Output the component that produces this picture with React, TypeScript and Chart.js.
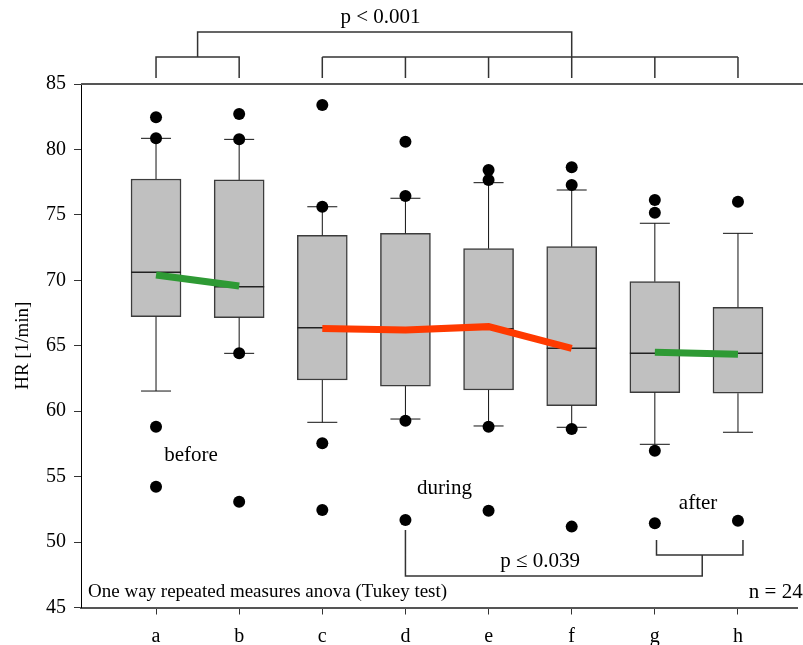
import React, { useEffect, useRef } from 'react';
import { Chart, registerables } from 'chart.js';

Chart.register(...registerables);

const categories = ['a', 'b', 'c', 'd', 'e', 'f', 'g', 'h'];
const q1 = [67.22, 67.14, 62.38, 61.92, 61.62, 60.42, 61.42, 61.37];
const q3 = [77.74, 77.67, 73.44, 73.59, 72.42, 72.57, 69.9, 67.94];
const medians = [70.61, 69.51, 66.38, 66.2, 66.3, 64.8, 64.42, 64.42];
const whiskerLow = [61.54, 64.42, 59.15, 59.4, 58.87, 58.77, 57.47, 58.39];
const whiskerHigh = [80.85, 80.77, 75.62, 76.27, 77.46, 76.9, 74.36, 73.59];
const outliers = [
  [82.46, 80.85, 58.81, 54.23],
  [82.71, 80.77, 64.42, 53.08],
  [83.4, 75.62, 57.55, 52.45],
  [80.59, 76.44, 59.27, 51.69],
  [78.43, 77.67, 58.81, 52.4],
  [78.63, 77.28, 58.64, 51.18],
  [76.14, 75.17, 56.98, 51.43],
  [76.01, 51.63],
];
const meanBefore = [70.41, 69.56]; // a, b
const meanDuring = [66.31, 66.2, 66.46, 64.8]; // c .. f
const meanAfter = [64.5, 64.35]; // g, h
const yTicks = [45, 50, 55, 60, 65, 70, 75, 80, 85];

const FONT = '"Liberation Serif", "Times New Roman", serif';

const extrasPlugin = {
  id: 'boxExtras',
  afterDatasetDraw(chart: any, args: any) {
    if (args.index !== 0) return;
    const { ctx } = chart;
    const x = chart.scales.x;
    const y = chart.scales.y;
    const half = 25;
    const cap = 15;
    ctx.save();
    categories.forEach((_, i) => {
      const px = x.getPixelForValue(i + 1);
      ctx.strokeStyle = '#111';
      ctx.lineWidth = 1;
      ctx.beginPath();
      ctx.moveTo(px, y.getPixelForValue(q3[i]));
      ctx.lineTo(px, y.getPixelForValue(whiskerHigh[i]));
      ctx.moveTo(px - cap, y.getPixelForValue(whiskerHigh[i]));
      ctx.lineTo(px + cap, y.getPixelForValue(whiskerHigh[i]));
      ctx.moveTo(px, y.getPixelForValue(q1[i]));
      ctx.lineTo(px, y.getPixelForValue(whiskerLow[i]));
      ctx.moveTo(px - cap, y.getPixelForValue(whiskerLow[i]));
      ctx.lineTo(px + cap, y.getPixelForValue(whiskerLow[i]));
      ctx.stroke();
      ctx.strokeStyle = '#222';
      ctx.lineWidth = 1.5;
      ctx.beginPath();
      ctx.moveTo(px - half, y.getPixelForValue(medians[i]));
      ctx.lineTo(px + half, y.getPixelForValue(medians[i]));
      ctx.stroke();
    });
    ctx.restore();
  },
  afterDraw(chart: any) {
    const { ctx, chartArea } = chart;
    const x = chart.scales.x;
    const y = chart.scales.y;
    const X = (v: number) => x.getPixelForValue(v);
    const Y = (v: number) => y.getPixelForValue(v);
    ctx.save();
    // top frame line
    ctx.strokeStyle = '#555';
    ctx.lineWidth = 2;
    ctx.beginPath();
    ctx.moveTo(chartArea.left, Y(85));
    ctx.lineTo(chart.width, Y(85));
    ctx.stroke();

    ctx.strokeStyle = '#333';
    ctx.lineWidth = 1.5;
    const t = chartArea.top;
    const tickTop = t - 6;
    const groupY = t - 27;
    const topY = t - 52;
    ctx.beginPath();
    // before group bracket (a-b)
    ctx.moveTo(X(1), tickTop);
    ctx.lineTo(X(1), groupY);
    ctx.lineTo(X(2), groupY);
    ctx.lineTo(X(2), tickTop);
    // during + after group bracket (c-h)
    ctx.moveTo(X(3), groupY);
    ctx.lineTo(X(8), groupY);
    for (let i = 3; i <= 8; i++) {
      ctx.moveTo(X(i), groupY);
      ctx.lineTo(X(i), tickTop);
    }
    // top connecting bracket
    ctx.moveTo(X(1.5), groupY);
    ctx.lineTo(X(1.5), topY);
    ctx.lineTo(X(6), topY);
    ctx.lineTo(X(6), groupY);
    // bottom bracket d -> (g,h)
    ctx.moveTo(X(4), Y(50.92));
    ctx.lineTo(X(4), Y(47.41));
    ctx.lineTo(X(7.57), Y(47.41));
    ctx.lineTo(X(7.57), Y(49.01));
    ctx.moveTo(X(7.02), Y(50.16));
    ctx.lineTo(X(7.02), Y(49.01));
    ctx.lineTo(X(8.06), Y(49.01));
    ctx.lineTo(X(8.06), Y(50.16));
    ctx.stroke();

    ctx.fillStyle = '#000';
    ctx.textBaseline = 'middle';
    ctx.textAlign = 'center';
    ctx.font = `21px ${FONT}`;
    ctx.fillText('p < 0.001', X(3.7), t - 67);
    ctx.fillText('before', X(1.42), Y(56.65));
    ctx.fillText('during', X(4.47), Y(54.13));
    ctx.fillText('after', X(7.52), Y(52.91));
    ctx.fillText('p \u2264 0.039', X(5.62), Y(48.55));
    ctx.textAlign = 'left';
    ctx.font = `19px ${FONT}`;
    ctx.fillText('One way repeated measures anova (Tukey test)', chartArea.left + 7, chartArea.bottom - 15);
    ctx.font = `21px ${FONT}`;
    ctx.fillText('n = 24', X(8.13), chartArea.bottom - 15);
    ctx.restore();
  },
};

export default function App() {
  const ref = useRef<HTMLCanvasElement | null>(null);
  useEffect(() => {
    if (!ref.current) return;
    const outlierPoints: { x: number; y: number }[] = [];
    outliers.forEach((arr, i) => arr.forEach((v) => outlierPoints.push({ x: i + 1, y: v })));
    const chart = new Chart(ref.current, {
      type: 'bar',
      data: {
        datasets: [
          {
            type: 'bar',
            data: categories.map((_, i) => ({ x: i + 1, y: [q1[i], q3[i]] })) as any,
            backgroundColor: '#c0c0c0',
            borderColor: '#3c3c3c',
            borderWidth: 1.5,
            borderSkipped: false,
            barThickness: 50,
            order: 3,
          } as any,
          {
            type: 'scatter',
            data: outlierPoints,
            pointRadius: 6,
            pointBackgroundColor: '#000',
            pointBorderWidth: 0,
            order: 2,
          } as any,
          {
            type: 'line',
            data: meanBefore.map((v, i) => ({ x: i + 1, y: v })),
            borderColor: '#2e9a34',
            borderWidth: 7,
            pointRadius: 0,
            order: 1,
          } as any,
          {
            type: 'line',
            data: meanDuring.map((v, i) => ({ x: i + 3, y: v })),
            borderColor: '#ff3a00',
            borderWidth: 7,
            pointRadius: 0,
            order: 1,
          } as any,
          {
            type: 'line',
            data: meanAfter.map((v, i) => ({ x: i + 7, y: v })),
            borderColor: '#2e9a34',
            borderWidth: 7,
            pointRadius: 0,
            order: 1,
          } as any,
        ],
      },
      options: {
        responsive: false,
        animation: false,
        layout: { padding: { top: 84, left: 0, right: 0, bottom: 0 } },
        plugins: { legend: { display: false }, tooltip: { enabled: false } },
        scales: {
          x: {
            type: 'linear',
            offset: false,
            min: 0.0975,
            max: 8.71,
            afterBuildTicks: (s: any) => {
              s.ticks = categories.map((_, i) => ({ value: i + 1 }));
            },
            afterFit: (s: any) => {
              s.height = 37.5;
              s.paddingLeft = 0;
              s.paddingRight = 0;
            },
            ticks: {
              callback: (v: any) => categories[Math.round(Number(v)) - 1] ?? '',
              font: { family: FONT, size: 20 },
              color: '#000',
              maxRotation: 0,
              autoSkip: false,
              padding: 10,
            },
            grid: { offset: false, drawOnChartArea: false, drawTicks: true, tickLength: 7, color: '#333', lineWidth: 1 },
            border: { display: true, color: '#555', width: 2 },
          },
          y: {
            type: 'linear',
            min: 45,
            max: 85,
            afterBuildTicks: (s: any) => {
              s.ticks = yTicks.map((v) => ({ value: v }));
            },
            afterFit: (s: any) => {
              s.width = 81;
              s.paddingTop = 0;
              s.paddingBottom = 0;
            },
            ticks: {
              font: { family: FONT, size: 20 },
              color: '#000',
              padding: 8,
            },
            grid: { drawOnChartArea: false, drawTicks: true, tickLength: 7, color: '#333', lineWidth: 1 },
            border: { display: true, color: '#000', width: 1 },
            title: {
              display: true,
              text: 'HR [1/min]',
              font: { family: FONT, size: 19 },
              color: '#000',
              padding: { top: 11.6, bottom: 0 },
            },
          },
        },
      } as any,
      plugins: [extrasPlugin],
    });
    return () => chart.destroy();
  }, []);
  return (
    <div
      style={{
        position: 'fixed',
        left: 0,
        top: 0,
        width: 803,
        height: 645,
        overflow: 'hidden',
        background: '#fff',
      }}
    >
      <canvas ref={ref} width={803} height={645} style={{ display: 'block', width: 803, height: 645 }} />
    </div>
  );
}
